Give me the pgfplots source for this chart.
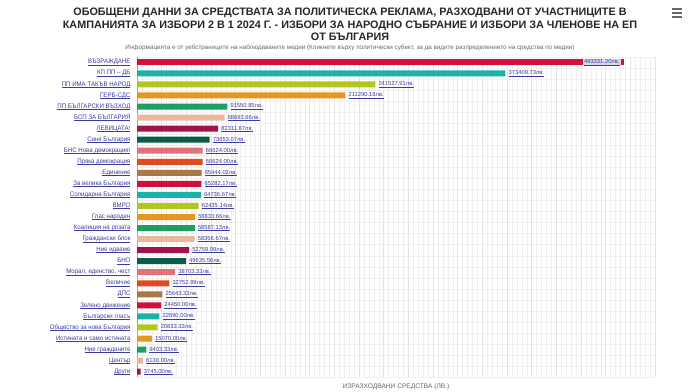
\documentclass[border=0pt]{standalone}
\usepackage{fontspec}
\setmainfont{Liberation Sans}
\newfontfamily\titlefont{Liberation Sans}
\newfontfamily\narrowfont[FakeStretch=0.94]{Liberation Sans}
\usepackage{pgfplots}
\pgfplotsset{compat=1.18}
\definecolor{cA}{HTML}{D0103A}
\definecolor{cB}{HTML}{1BB2A8}
\definecolor{cC}{HTML}{B3C61E}
\definecolor{cD}{HTML}{E8961E}
\definecolor{cE}{HTML}{1E9E62}
\definecolor{cF}{HTML}{E8B8A0}
\definecolor{cG}{HTML}{A3124A}
\definecolor{cH}{HTML}{0B5B4B}
\definecolor{cI}{HTML}{E0727C}
\definecolor{cJ}{HTML}{E04A20}
\definecolor{cK}{HTML}{A87848}
\definecolor{lnk}{HTML}{3B3B9E}
\newsavebox\lkbox
\newcommand\lk[1]{\leavevmode\sbox\lkbox{#1}\rlap{\rule[-1.1pt]{\wd\lkbox}{0.35pt}}\usebox\lkbox}
\begin{document}
\begin{tikzpicture}
\useasboundingbox (0,0) rectangle (696bp,-392bp);
\node[font=\titlefont\bfseries\fontsize{10.8bp}{12.6bp}\selectfont, align=center, text=black!85] at (350bp,-24.5bp)
 {ОБОБЩЕНИ ДАННИ ЗА СРЕДСТВАТА ЗА ПОЛИТИЧЕСКА РЕКЛАМА, РАЗХОДВАНИ ОТ УЧАСТНИЦИТЕ В\\
  КАМПАНИЯТА ЗА ИЗБОРИ 2 В 1 2024 Г. - ИЗБОРИ ЗА НАРОДНО СЪБРАНИЕ И ИЗБОРИ ЗА ЧЛЕНОВЕ НА ЕП\\
  ОТ БЪЛГАРИЯ};
\node[font=\fontsize{6.3bp}{7bp}\selectfont, text=black!60] at (350bp,-47.5bp)
 {Информацията е от уебстраниците на наблюдаваните медии (Кликнете върху политически субект, за да видите разпределението на средства по медии)};
\draw[black!60, line width=1.1bp] (672bp,-9bp) -- ++(10bp,0) (672bp,-13bp) -- ++(10bp,0) (672bp,-17bp) -- ++(10bp,0);
\begin{axis}[
  at={(137bp,-56.8bp)}, anchor=north west,
  scale only axis, width=518bp, height=320.4bp,
  xmin=0, xmax=525000, ymin=-0.5, ymax=28.5, y dir=reverse,
  xbar, bar width=6bp, bar shift=0pt, clip=false,
  scaled x ticks=false,
  ytick={0,...,28},
  yticklabels={\lk{ВЪЗРАЖДАНЕ},\lk{КП ПП – ДБ},\lk{ПП ИМА ТАКЪВ НАРОД},\lk{ГЕРБ-СДС},\lk{ПП БЪЛГАРСКИ ВЪЗХОД},\lk{БСП ЗА БЪЛГАРИЯ},\lk{ЛЕВИЦАТА!},\lk{Синя България},\lk{БНС Нова демокрация!},\lk{Пряка демокрация},\lk{Единение},\lk{За велика България},\lk{Солидарна България},\lk{ВМРО},\lk{Глас народен},\lk{Коалиция на розата},\lk{Граждански блок},\lk{Ние идваме},\lk{БНО},\lk{Морал, единство, чест},\lk{Величие},\lk{ДПС},\lk{Зелено движение},\lk{Български гласъ},\lk{Общество за нова България},\lk{Истината и само истината},\lk{Ние гражданите},\lk{Център},\lk{Други}},
  xtick={0,25000,50000,75000,100000,125000,150000,175000,200000,225000,250000,275000,300000,325000,350000,375000,400000,425000,450000,475000,500000,525000},
  xticklabels={},
  minor x tick num=4,
  minor ytick={-0.5,0.5,...,28.5},
  xmajorgrids, xminorgrids, yminorgrids,
  major grid style={draw=black!11, line width=0.4bp},
  minor grid style={draw=black!6, line width=0.3bp},
  major tick length=0pt, minor tick length=0pt,
  axis lines*=left,
  x axis line style={draw=none},
  y axis line style={draw=black!35, line width=0.5bp},
  yticklabel style={font=\narrowfont\fontsize{6.5bp}{7bp}\selectfont, text=lnk, xshift=-3bp},
  xlabel={ИЗРАЗХОДВАНИ СРЕДСТВА (ЛВ.)},
  xlabel style={at={(axis description cs:0.5,0)}, anchor=north, yshift=-2.5bp, font=\fontsize{6.6bp}{7bp}\selectfont, text=black!60},
  point meta=explicit symbolic,
  nodes near coords={\lk{\pgfplotspointmeta лв.}},
  every node near coord/.append style={font=\fontsize{5.8bp}{6.5bp}\selectfont, text=lnk, anchor=west, inner sep=1bp, xshift=2bp},
]
\addplot[fill=cA, draw=none, every node near coord/.append style={anchor=east, xshift=-5bp, fill=lnk!20}] coordinates {(493331.20,0) [493331.20]};
\addplot[fill=cA, draw=none] coordinates {(65282.17,11) [65282.17] (24450.00,22) [24450.00]};
\addplot[fill=cB, draw=none] coordinates {(373409.73,1) [373409.73] (64736.67,12) [64736.67] (22690.00,23) [22690.00]};
\addplot[fill=cC, draw=none] coordinates {(241527.91,2) [241527.91] (62435.14,13) [62435.14] (20833.33,24) [20833.33]};
\addplot[fill=cD, draw=none] coordinates {(211290.16,3) [211290.16] (58833.66,14) [58833.66] (15070.00,25) [15070.00]};
\addplot[fill=cE, draw=none] coordinates {(91550.85,4) [91550.85] (58587.13,15) [58587.13] (9403.33,26) [9403.33]};
\addplot[fill=cF, draw=none] coordinates {(88693.66,5) [88693.66] (58366.67,16) [58366.67] (6130.00,27) [6130.00]};
\addplot[fill=cG, draw=none] coordinates {(82311.87,6) [82311.87] (52759.99,17) [52759.99] (3745.00,28) [3745.00]};
\addplot[fill=cH, draw=none] coordinates {(73653.07,7) [73653.07] (49635.56,18) [49635.56]};
\addplot[fill=cI, draw=none] coordinates {(66624.00,8) [66624.00] (38703.33,19) [38703.33]};
\addplot[fill=cJ, draw=none] coordinates {(66624.00,9) [66624.00] (32752.99,20) [32752.99]};
\addplot[fill=cK, draw=none] coordinates {(65444.02,10) [65444.02] (25643.33,21) [25643.33]};
\end{axis}
\end{tikzpicture}
\end{document}
